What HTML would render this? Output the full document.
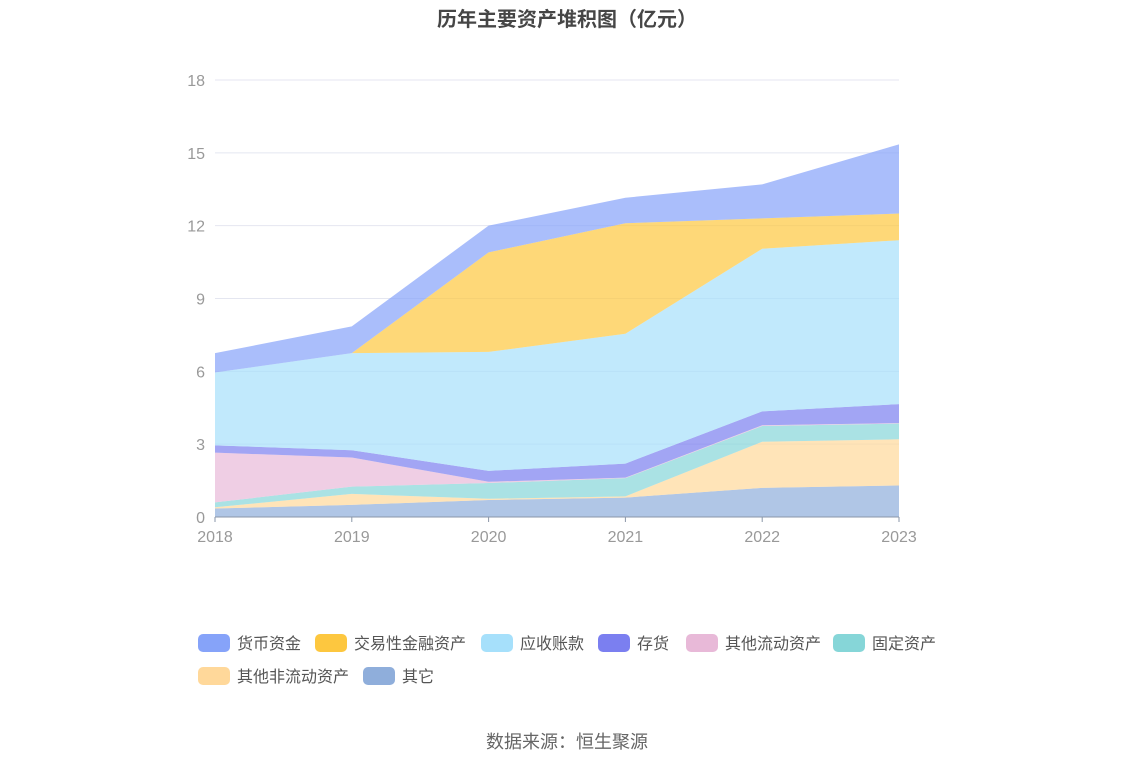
<!DOCTYPE html>
<html><head><meta charset="utf-8">
<style>
body{margin:0;background:#fff;font-family:"Liberation Sans","Noto Sans CJK SC",sans-serif;}
svg text{font-family:"Liberation Sans","Noto Sans CJK SC",sans-serif;}
</style></head>
<body>
<svg id="c" width="1134" height="766">
<text x="567" y="26" text-anchor="middle" font-size="20" font-weight="bold" fill="#464646">历年主要资产堆积图（亿元）</text>
<g id="grid"></g><g id="areas"></g><g id="axes"></g><g id="legend"></g>
<text x="567" y="748" text-anchor="middle" font-size="18" fill="#666">数据来源：恒生聚源</text>
</svg>
<script>
const years=["2018","2019","2020","2021","2022","2023"];
const seriesNames=["其它","其他非流动资产","固定资产","其他流动资产","存货","应收账款","交易性金融资产","货币资金"];
const sOther=[0.35,0.5,0.7,0.8,1.2,1.3];
const sNonCur=[0.05,0.45,0.05,0.05,1.9,1.9];
const sFixed=[0.2,0.3,0.65,0.75,0.65,0.65];
const sOtherCur=[2.05,1.2,0.05,0.02,0.03,0.02];
const sInv=[0.3,0.3,0.45,0.58,0.57,0.78];
const sRecv=[3.0,4.0,4.9,5.35,6.7,6.75];
const sTrade=[0,0,4.1,4.55,1.25,1.1];
const sCash=[0.8,1.1,1.1,1.05,1.4,2.85];
const yTicks=[0,3,6,9,12,15,18];
const series=[sOther,sNonCur,sFixed,sOtherCur,sInv,sRecv,sTrade,sCash];
const colors=["#8faedb","#ffd89a","#86d6d8","#e8b9d8","#7b7ff0","#a6e0fb","#fdc73f","#86a3f9"];
const NS="http://www.w3.org/2000/svg";
const x0=215,x1=899,yb=517,yt=80,ymax=18;
const X=i=>x0+(x1-x0)*i/(years.length-1);
const Y=v=>yb-(yb-yt)*v/ymax;
function mk(t,a,p){const e=document.createElementNS(NS,t);for(const k in a)e.setAttribute(k,a[k]);p.appendChild(e);return e;}
const grid=document.getElementById('grid'),axes=document.getElementById('axes'),areas=document.getElementById('areas'),legend=document.getElementById('legend');
yTicks.forEach(t=>{
 if(t>0){const l=mk('line',{x1:x0,x2:x1,y1:Y(t),y2:Y(t),stroke:'#e4e6f0'},grid);
 
 }
 const tx=mk('text',{x:205,y:Y(t)+6,'text-anchor':'end','font-size':16,fill:'#999'},axes);tx.textContent=t;
 
 
});
let base=years.map(()=>0);
series.forEach((s,k)=>{
 const top=base.map((b,i)=>b+s[i]);
 let d='M'+top.map((v,i)=>X(i)+','+Y(v)).join('L');
 for(let i=years.length-1;i>=0;i--)d+='L'+X(i)+','+Y(base[i]);
 const p=mk('path',{d:d+'Z',fill:colors[k],'fill-opacity':0.7,stroke:'none'},areas);
 
 
 base=top;
});
const ax=mk('line',{x1:x0,x2:x1,y1:yb,y2:yb,stroke:'#8a96a8'},axes);


years.forEach((y,i)=>{
 mk('line',{x1:X(i),x2:X(i),y1:yb,y2:yb+5,stroke:'#8a96a8'},axes);
 const t=mk('text',{x:X(i),y:542,'text-anchor':'middle','font-size':16,fill:'#999'},axes);t.textContent=y;
 
 
});
const legOrder=[7,6,5,4,3,2,1,0];
const legPos=[[198,643],[315,643],[481,643],[598,643],[686,643],[833,643],[198,676],[363,676]];
legOrder.forEach((k,j)=>{
 const [lx,ly]=legPos[j];
 const g=mk('g',{},legend);
 
 
 mk('rect',{x:lx,y:ly-9,width:32,height:18,rx:5,fill:colors[k]},g);
 const t=mk('text',{x:lx+39,y:ly+6,'font-size':16,fill:'#555'},g);t.textContent=seriesNames[k];
});
</script>
</body></html>
